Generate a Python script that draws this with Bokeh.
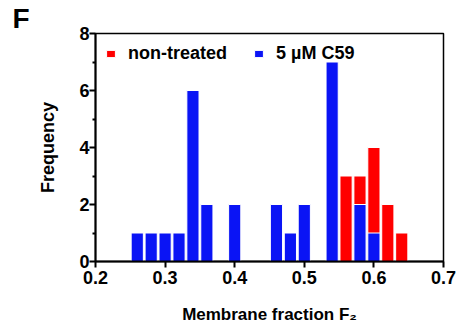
from bokeh.plotting import figure
from bokeh.models import FixedTicker, Legend, LegendItem, Range1d
from bokeh.embed import file_html
from bokeh.resources import INLINE

# Data
bin_centers_nt = [0.56, 0.58, 0.60, 0.62, 0.64]
freq_nt = [3, 3, 4, 2, 1]
bin_centers_c59 = [0.26, 0.28, 0.30, 0.32, 0.34, 0.36, 0.40, 0.46, 0.48, 0.50, 0.54, 0.58, 0.60]
freq_c59 = [1, 1, 1, 1, 6, 2, 2, 2, 1, 2, 7, 2, 1]
x_ticks = [0.2, 0.3, 0.4, 0.5, 0.6, 0.7]
y_ticks = [0, 2, 4, 6, 8]
y_minor = [1, 3, 5, 7]
series_names = ["non-treated", "5 \u00b5M C59"]

FONT = "Liberation Sans"
W, H = 460, 328

p = figure(width=W, height=H, output_backend="svg", toolbar_location=None,
           x_range=Range1d(0.2, 0.7), y_range=Range1d(0, 8),
           min_border_left=95, min_border_right=W - 443,
           min_border_top=32, min_border_bottom=H - 261)

p.title.text = "F"
p.title.text_font = FONT
p.title.text_font_size = "28px"
p.title.text_font_style = "bold"
p.title.text_color = "black"
p.title.align = "left"
p.title.offset = -83
p.title.standoff = 0

p.grid.visible = False
p.background_fill_color = "white"
p.border_fill_color = "white"
p.outline_line_color = "black"
p.outline_line_width = 1.5

bw = 0.0175
r_nt = p.vbar(x=bin_centers_nt, top=freq_nt, width=bw, bottom=0,
              fill_color="#ff0000", line_color="white", line_width=1)
r_c59 = p.vbar(x=bin_centers_c59, top=freq_c59, width=bw, bottom=0,
               fill_color="#0a14f5", line_color="white", line_width=1)

for ax in (p.xaxis[0], p.yaxis[0]):
    ax.axis_line_width = 2
    ax.axis_line_color = "black"
    ax.major_tick_line_width = 2
    ax.minor_tick_line_width = 2
    ax.major_tick_in = 0
    ax.major_tick_out = 6
    ax.minor_tick_in = 0
    ax.minor_tick_out = 3
    ax.major_label_text_font = FONT
    ax.major_label_text_font_size = "18px"
    ax.major_label_text_font_style = "bold"
    ax.major_label_text_color = "black"
    ax.axis_label_text_font = FONT
    ax.axis_label_text_font_size = "18px"
    ax.axis_label_text_font_style = "bold"
    ax.axis_label_text_color = "black"

p.xaxis.ticker = FixedTicker(ticks=x_ticks)
p.xaxis.major_label_overrides = {t: f"{t:.1f}" for t in x_ticks}
p.xaxis.major_label_standoff = 3
p.xaxis.axis_label = "Membrane fraction F\u2082"
p.xaxis.axis_label_text_font_size = "17px"
p.xaxis.axis_label_standoff = 18

p.yaxis.ticker = FixedTicker(ticks=y_ticks, minor_ticks=y_minor)
p.yaxis.major_label_standoff = 0
p.yaxis.axis_label = "Frequency"
p.yaxis.axis_label_standoff = 18

legend = Legend(items=[LegendItem(label=series_names[0], renderers=[r_nt]),
                       LegendItem(label=series_names[1], renderers=[r_c59])],
                location="top_left", orientation="horizontal",
                border_line_color=None, background_fill_alpha=0,
                margin=10, padding=12, spacing=26,
                glyph_width=11, glyph_height=9, label_standoff=12,
                label_text_font=FONT, label_text_font_size="18px",
                label_text_font_style="bold",
                label_text_color="black")
p.add_layout(legend)

open("out.html", "w").write(file_html(p, INLINE))
